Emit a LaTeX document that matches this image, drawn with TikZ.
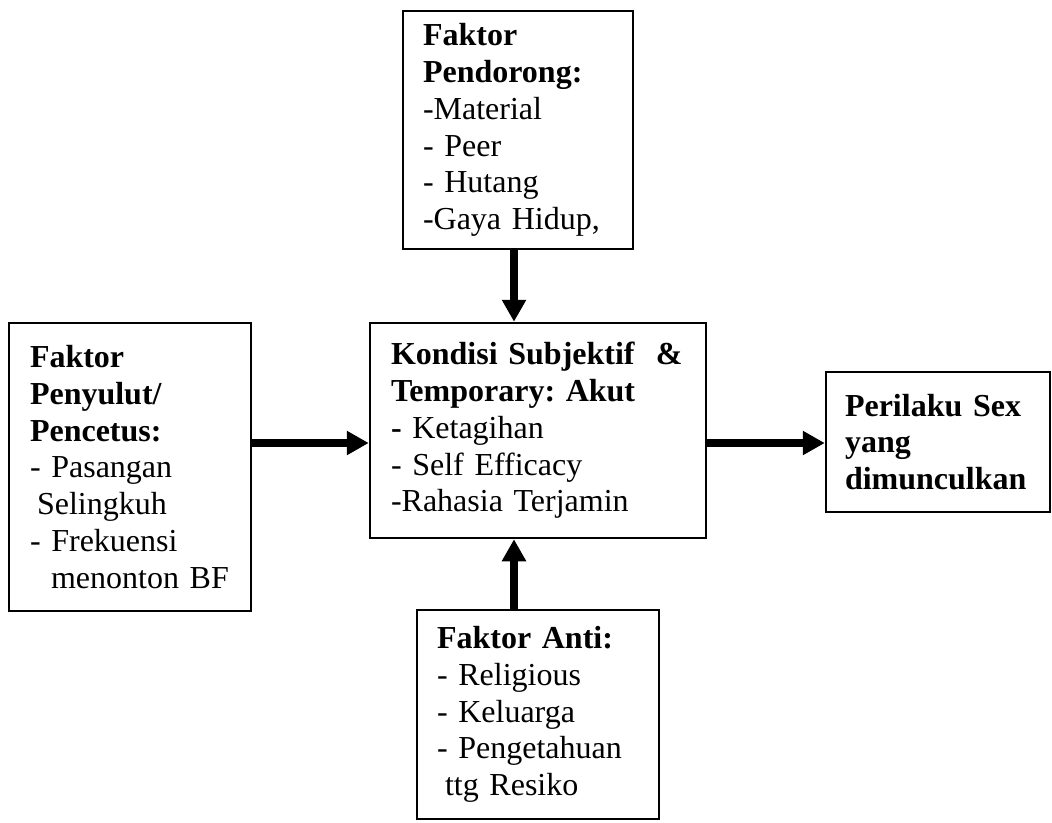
\documentclass[tikz,border=0pt]{standalone}
\usepackage{fontspec}
\setmainfont{Liberation Serif}
\usepackage{xcolor}
\usepackage{tikz}
\usetikzlibrary{arrows.meta}

\begin{document}
\begin{tikzpicture}[
    x=1pt,
    y=-1pt,
    font=\fontsize{32}{36.8}\selectfont\frenchspacing,
    box/.style={
        draw,
        line width=2.5pt,
        align=left,
        inner xsep=20pt,
        inner ysep=0pt
    },
    arrow/.style={
        -{Triangle[length=22pt,width=23pt]},
        line width=8pt
    }
]

\useasboundingbox (0,0) rectangle (1052,822);

% Box 1: driving factors (top)
\node[
    box,
    text width=190pt,
    minimum height=238pt
] (pendorong) at (518,130) {
    \textbf{Faktor}\\
    \textbf{Pendorong:}\\
    -Material\\
    - Peer\\
    - Hutang\\
    -Gaya Hidup,
};

% Box 2: triggering factors (left)
\node[
    box,
    inner xsep=21pt,
    text width=200pt,
    minimum height=288pt
] (penyulut) at (130,467) {
    \textbf{Faktor}\\
    \textbf{Penyulut/}\\
    \textbf{Pencetus:}\\
    - Pasangan\\
    \hspace*{7pt}Selingkuh\\
    - Frekuensi\\
    \hspace*{21pt}menonton BF
};

% Box 3: subjective condition (centre)
\node[
    box,
    inner xsep=21pt,
    text width=294pt,
    minimum height=215pt
] (kondisi) at (538,430.5) {
    \textbf{Kondisi Subjektif\ \ \&}\\
    \textbf{Temporary: Akut}\\
    \textbf{-} Ketagihan\\
    - Self Efficacy\\
    -Rahasia Terjamin
};

% Box 4: resulting behaviour (right)
\node[
    box,
    inner xsep=19pt,
    text width=186pt,
    minimum height=140pt
] (perilaku) at (938,442) {
    \textbf{Perilaku Sex}\\
    \textbf{yang}\\
    \textbf{dimunculkan}
};

% Box 5: inhibiting factors (bottom)
\node[
    box,
    text width=202pt,
    minimum height=209pt
] (anti) at (538,714.5) {
    \textbf{Faktor Anti:}\\
    - Religious\\
    - Keluarga\\
    - Pengetahuan\\
    \hspace*{8pt}ttg Resiko
};


% Arrows
\coordinate (poros) at (514,443);

\draw[
    arrow
] (poros |- pendorong.south) -- (poros |- kondisi.north);

\draw[
    arrow
] (poros |- anti.north) -- (poros |- kondisi.south);

\draw[
    arrow
] (poros -| penyulut.east) -- (poros -| kondisi.west);

\draw[
    arrow
] (poros -| kondisi.east) -- (poros -| perilaku.west);

\end{tikzpicture}
\end{document}
